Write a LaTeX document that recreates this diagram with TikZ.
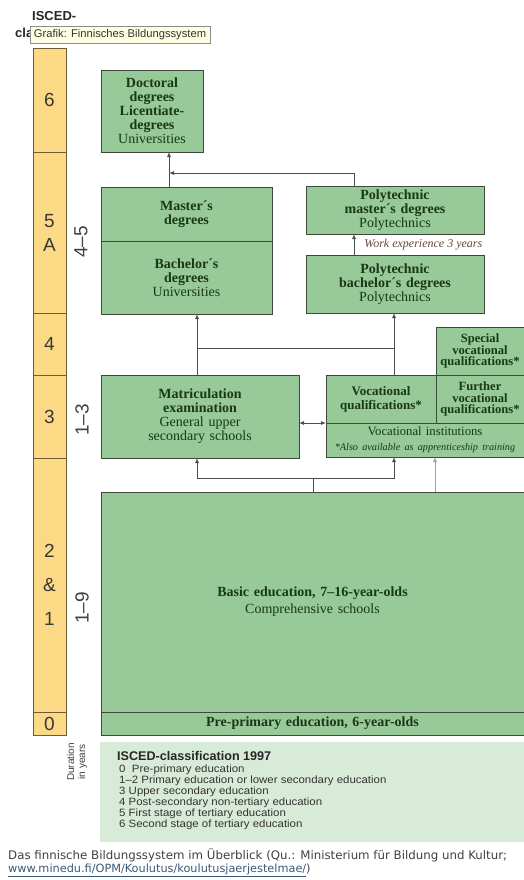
\documentclass[tikz,border=0pt]{standalone}
\usepackage{fontspec}
\setmainfont{Liberation Serif}
\newfontfamily\arialfont{Liberation Sans}
\newfontfamily\legendfont[FakeStretch=1.08]{Liberation Sans}
\newfontfamily\verdanafont{DejaVu Sans}
\usetikzlibrary{positioning,arrows.meta,calc}
\definecolor{iscedyellow}{HTML}{FCD984}
\definecolor{cellbrown}{HTML}{6E5C36}
\definecolor{boxgreen}{HTML}{98C998}
\definecolor{boxline}{HTML}{3C4A3C}
\definecolor{boxtext}{HTML}{183818}
\definecolor{legendgreen}{HTML}{D8EBD8}
\definecolor{linegray}{HTML}{4D4D4D}
\definecolor{paleline}{HTML}{A0A0A0}
\definecolor{workbrown}{HTML}{6A4434}
\definecolor{tipyellow}{HTML}{FFFFE1}
\definecolor{linkblue}{HTML}{3A5878}

\begin{document}
\begin{tikzpicture}[
    x=1pt, y=-1pt,
    every node/.style={inner sep=0pt},
    levelcell/.style={rectangle, draw=cellbrown, fill=iscedyellow, line width=0.9pt,
                      outer sep=0pt, minimum width=33pt, minimum height=#1, align=center,
                      font=\arialfont\fontsize{19}{24}\selectfont, text=black!78},
    block/.style={rectangle, draw=boxline, fill=boxgreen, line width=0.9pt, outer sep=0pt,
                  align=center, text=boxtext, font=\fontsize{14}{14}\selectfont},
    boxsize/.style 2 args={minimum width=#1, text width=#1, minimum height=#2},
    duration/.style={rotate=90, font=\arialfont\fontsize{19}{20}\selectfont, text=black!75},
    arrow/.style={-{Latex[length=5pt,width=4pt]}, line width=0.8pt, color=#1},
    link/.style={line width=0.8pt, color=#1},
]
\useasboundingbox (0,0) rectangle (524,880);

% Heading and tooltip
\node[anchor=west, font=\arialfont\bfseries\fontsize{13}{14}\selectfont, text=black!85] (title) at (32,16) {ISCED-};
\node[anchor=west, font=\arialfont\bfseries\fontsize{13}{14}\selectfont, text=black!85] (titlecut) at (15,33) {cla};
\node[rectangle, draw=black!45, fill=tipyellow, minimum width=180pt, minimum height=17pt,
      font=\arialfont\fontsize{11.2}{12}\selectfont, text=black!80] (tooltip) at (120,34.5) {Grafik: Finnisches Bildungssystem};

% ISCED levels
\node[levelcell=104pt] (lev6) at (49.5,100) {6};
\node[levelcell=161pt, below=0pt of lev6] (lev5) {5\\A};
\node[levelcell=62pt, below=0pt of lev5] (lev4) {4};
\node[levelcell=83pt, below=0pt of lev4] (lev3) {3};
\node[levelcell=254pt, below=0pt of lev3, font=\arialfont\fontsize{19}{34}\selectfont] (lev21) {2\\\&\\1};
\node[levelcell=23pt, below=0pt of lev21] (lev0) {0};

% Duration in years
\node[duration] (dur45) at (81,242) {4–5};
\node[duration] (dur13) at (82,420) {1–3};
\node[duration] (dur19) at (82,608) {1–9};
\node[rotate=90, align=center, font=\arialfont\fontsize{10}{11}\selectfont, text=black!75] (durlabel) at (77,762) {Duration\\in years};

% Universities
\node[block, boxsize={102pt}{82pt}] (doct) at (152,111) {\textbf{Doctoral\\degrees\\Licentiate-\\degrees}\\Universities};
\node[block, boxsize={171pt}{54pt}] (mast) at (186.5,214) {\textbf{Master´s\\degrees}};
\node[block, boxsize={171pt}{73pt}, below=0pt of mast] (bach) {\textbf{Bachelor´s\\degrees}\\Universities};

% Polytechnics
\node[block, boxsize={178pt}{48pt}] (pmast) at (395,210) {\textbf{Polytechnic\\master´s degrees}\\Polytechnics};
\node[block, boxsize={178pt}{58pt}] (pbach) at (395,284) {\textbf{Polytechnic\\bachelor´s degrees}\\Polytechnics};

% Upper secondary
\node[block, boxsize={198pt}{83pt}] (matr) at (200,416.5) {\textbf{Matriculation\\examination}\\General upper\\secondary schools};
\node[block, boxsize={110pt}{48pt}, font=\fontsize{13}{14}\selectfont] (vocq) at (381,399) {\textbf{Vocational\\qualifications*}};
\node[block, boxsize={88pt}{48pt}, right=0pt of vocq, font=\fontsize{12.6}{11.5}\selectfont] (furth) {\textbf{Further\\vocational\\qualifications*}};
\node[block, boxsize={88pt}{48pt}, above=0pt of furth, font=\fontsize{12.6}{11.5}\selectfont] (spec) {\textbf{Special\\vocational\\qualifications*}};
\node[block, boxsize={198pt}{34pt}, anchor=north west, font=\fontsize{12.7}{13}\selectfont] (vinst) at (vocq.south west)
  {Vocational institutions\par{\itshape\fontsize{10.2}{15}\selectfont *Also available as apprenticeship training\par}};

% Basic and pre-primary
\node[block, boxsize={423pt}{220pt}, font=\fontsize{14}{17}\selectfont] (basic) at (312.5,602) {\textbf{Basic education, 7–16-year-olds}\\Comprehensive schools};
\node[block, boxsize={423pt}{23pt}, below=0pt of basic] (prep) {\textbf{Pre-primary education, 6-year-olds}};

% Legend
\node[rectangle, fill=legendgreen, minimum width=424pt, minimum height=100pt, anchor=north west] (legend) at (100,742) {};
\node[anchor=west, font=\arialfont\bfseries\fontsize{12.6}{13}\selectfont, text=black!85] (legendtitle) at (117,756) {ISCED-classification 1997};
\node[anchor=north west, align=left, font=\legendfont\fontsize{10.6}{8.8}\selectfont, text=black!80] (legendlist) at (119,765)
  {0\ \ Pre-primary education\\1–2 Primary education or lower secondary education\\3 Upper secondary education\\4 Post-secondary non-tertiary education\\5 First stage of tertiary education\\6 Second stage of tertiary education};

% Caption
\node[anchor=west, font=\verdanafont\fontsize{11.8}{12}\selectfont, text=black!75] (caption) at (8,855)
  {Das finnische Bildungssystem im Überblick (Qu.: Ministerium für Bildung und Kultur;};
\node[anchor=west, font=\verdanafont\fontsize{11.3}{12}\selectfont, text=black!75] (source) at (8,870)
  {\textcolor{linkblue}{\underline{www.minedu.fi/OPM/Koulutus/koulutusjaerjestelmae/}})};

% Axes of the connectors
\coordinate (uniaxis) at (169,0);
\coordinate (polyaxis) at (354,0);
\coordinate (genaxis) at (197,0);
\coordinate (vocaxis) at (394,0);
\coordinate (basicaxis) at (313,0);
\coordinate (apprenaxis) at (435,0);
\coordinate (joinmaster) at (0,173);
\coordinate (jointertiary) at (0,348);
\coordinate (joinbasic) at (0,478);

% Tertiary connectors
\draw[arrow=linegray] (mast.north -| uniaxis) -- (doct.south -| uniaxis);
\draw[arrow=linegray] (pmast.north -| polyaxis) |- (joinmaster -| uniaxis);
\draw[arrow=linegray] (pbach.north -| polyaxis) -- (pmast.south -| polyaxis)
  node[midway, right=10pt, font=\itshape\fontsize{12}{12}\selectfont, text=workbrown] (workexp) {Work experience 3 years};

% Secondary to tertiary
\draw[arrow=linegray] (matr.north -| genaxis) -- (bach.south -| genaxis);
\draw[arrow=linegray] (vocq.north -| vocaxis) -- (pbach.south -| vocaxis);
\draw[link=linegray] (jointertiary -| genaxis) -- (jointertiary -| vocaxis);
\draw[{Latex[length=5pt,width=4pt]}-{Latex[length=5pt,width=4pt]}, line width=0.8pt, linegray] (vinst.north west -| matr.east) -- (vinst.north west);

% Basic to secondary
\draw[link=linegray] (basic.north -| basicaxis) -- (joinbasic -| basicaxis);
\draw[arrow=linegray] (joinbasic -| basicaxis) -| (matr.south -| genaxis);
\draw[arrow=linegray] (joinbasic -| basicaxis) -| (vinst.south -| vocaxis);
\draw[arrow=paleline] (basic.north -| apprenaxis) -- (vinst.south -| apprenaxis);

\end{tikzpicture}
\end{document}
